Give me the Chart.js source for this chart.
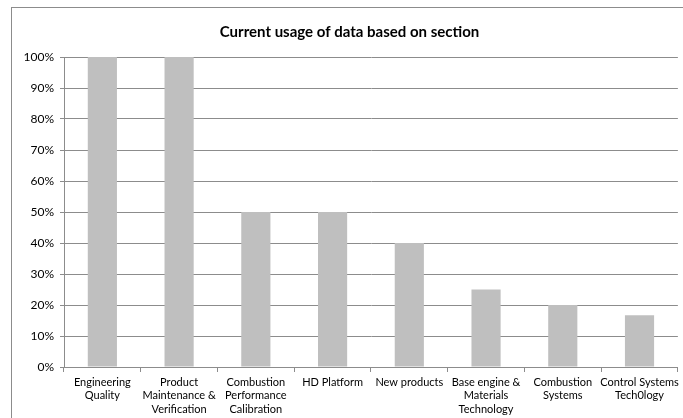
<!DOCTYPE html>
<html>
<head>
<meta charset="utf-8">
<script src="https://cdn.jsdelivr.net/npm/chart.js@4/dist/chart.umd.min.js"></script>
<style>
  html, body { margin: 0; padding: 0; background: #fff; }
  #wrap { width: 683px; height: 418px; position: relative; }
</style>
</head>
<body>
<div id="wrap"><canvas id="usageChart"></canvas></div>
<script>
const sections = [
    ['Engineering', 'Quality'],
    ['Product', 'Maintenance &', 'Verification'],
    ['Combustion', 'Performance', 'Calibration'],
    'HD Platform',
    'New products',
    ['Base engine &', 'Materials', 'Technology'],
    ['Combustion', 'Systems'],
    ['Control Systems', 'Tech0logy']
];
const usage = [100, 100, 50, 50, 40, 25, 20, 16.7];
const yTicks = [0, 10, 20, 30, 40, 50, 60, 70, 80, 90, 100];

const FONT = 'Lato, "Liberation Sans", sans-serif';

// the thin frame Excel draws round the chart
const frame = {
    id: 'frame',
    beforeDraw(chart) {
        const c = chart.ctx;
        c.save();
        c.strokeStyle = '#8c8c8c';
        c.lineWidth = 1;
        c.strokeRect(11.5, 7.5, 720, 460);
        c.restore();
    }
};

new Chart(document.getElementById('usageChart'), {
    type: 'bar',
    data: {
        labels: sections,
        datasets: [{
            data: usage,
            backgroundColor: '#bfbfbf',
            borderWidth: 0,
            categoryPercentage: 1,
            barPercentage: 0.38
        }]
    },
    options: {
        responsive: true,
        maintainAspectRatio: false,
        animation: false,
        layout: { padding: { left: 20, right: 4, top: 0, bottom: 0 } },
        plugins: {
            legend: { display: false },
            tooltip: { enabled: false },
            title: {
                display: true,
                text: 'Current usage of data based on section',
                color: '#000',
                font: { family: FONT, size: 15, weight: 'bold', lineHeight: 1.2 },
                padding: { top: 23, bottom: 16 }
            }
        },
        scales: {
            x: {
                grid: {
                    display: true,
                    drawOnChartArea: false,
                    drawTicks: true,
                    tickLength: 5,
                    color: '#8c8c8c',
                    offset: true
                },
                border: { color: '#8c8c8c' },
                ticks: {
                    color: '#000',
                    autoSkip: false,
                    maxRotation: 0,
                    padding: 4,
                    font: { family: FONT, size: 11, lineHeight: 1.2 }
                },
                afterFit(scale) { scale.height = 51; }
            },
            y: {
                min: 0,
                max: 100,
                afterBuildTicks(scale) { scale.ticks = yTicks.map(v => ({ value: v })); },
                grid: { color: '#8c8c8c', tickLength: 4 },
                border: { color: '#8c8c8c' },
                ticks: {
                    color: '#000',
                    padding: 6,
                    font: { family: FONT, size: 12 },
                    callback: v => v + '%'
                },
                afterFit(scale) { scale.width = 44; }
            }
        }
    },
    plugins: [frame]
});
</script>
</body>
</html>
